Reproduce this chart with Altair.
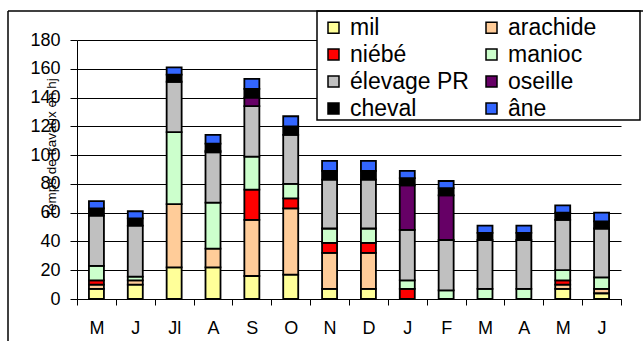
import altair as alt
import pandas as pd

# Monthly labour time per activity (hj), Mai -> Juin of the following year
months = ["M", "J", "Jl", "A", "S", "O", "N", "D", "J", "F", "M", "A", "M", "J"]

series = ["mil", "arachide", "niébé", "manioc", "élevage PR", "oseille", "cheval", "âne"]
colors = ["#FFFF99", "#FFCC99", "#FF0000", "#CCFFCC", "#C0C0C0", "#660066", "#000000", "#3366FF"]

mil = [7, 10, 22, 22, 16, 17, 7, 7, 0, 0, 0, 0, 7, 4]
arachide = [3, 3, 44, 13, 39, 46, 25, 25, 0, 0, 0, 0, 3, 3]
niebe = [3, 0, 0, 0, 21, 7, 7, 7, 7, 0, 0, 0, 3, 0]
manioc = [10, 2.5, 50, 32, 23, 10, 10, 10, 6, 6, 7, 7, 7, 8]
elevage = [35, 35.5, 35, 35, 35, 34, 34, 34, 35, 35, 34, 34, 35, 34]
oseille = [0, 0, 0, 1, 6, 0, 0, 0, 31, 31, 0, 0, 0, 0]
cheval = [5, 5, 5, 5, 6, 6, 6, 6, 5, 5, 5, 5, 5, 5]
ane = [5, 5, 5, 6, 7, 7, 7, 7, 5, 5, 5, 5, 5, 6]

values = [mil, arachide, niebe, manioc, elevage, oseille, cheval, ane]

rows = []
for k, (name, vals) in enumerate(zip(series, values)):
    for i, v in enumerate(vals):
        if v > 0:
            rows.append({"pos": i, "activite": name, "ordre": k, "hj": v})
df = pd.DataFrame(rows)

# the legend grid fills column by column: list the series so that rows read
# mil/arachide, niébé/manioc, élevage PR/oseille, cheval/âne
legend_order = series[0::2] + series[1::2]
legend_colors = [colors[series.index(s)] for s in legend_order]

label_expr = "[" + ",".join("'" + m + "'" for m in months) + "][datum.value]"

bars = alt.Chart(df).mark_bar(size=15, stroke="black", strokeWidth=1.8).encode(
    x=alt.X(
        "pos:O",
        title=None,
        scale=alt.Scale(paddingInner=0, paddingOuter=0),
        axis=alt.Axis(
            labelExpr=label_expr,
            labelAngle=0,
            labelFontSize=18,
            labelColor="black",
            labelPadding=14,
            tickBand="extent",
            tickSize=6,
            tickColor="black",
            domainColor="black",
            grid=False,
        ),
    ),
    y=alt.Y(
        "hj:Q",
        stack="zero",
        title=None,
        scale=alt.Scale(domain=[0, 180], nice=False),
        axis=alt.Axis(
            values=list(range(0, 181, 20)),
            labelFontSize=18,
            labelColor="black",
            labelPadding=10,
            tickSize=7,
            tickColor="black",
            domainColor="black",
            grid=True,
            gridColor="black",
            gridWidth=1,
        ),
    ),
    color=alt.Color(
        "activite:N",
        title=None,
        scale=alt.Scale(domain=legend_order, range=legend_colors),
        legend=alt.Legend(
            orient="none",
            legendX=245,
            legendY=-24,
            columns=2,
            labelFontSize=23,
            labelColor="black",
            labelOffset=5,
            symbolType="square",
            symbolSize=121,
            symbolStrokeColor="black",
            symbolStrokeWidth=1.5,
            rowPadding=3,
            columnPadding=11,
            padding=0,
        ),
    ),
    order=alt.Order("ordre:Q", sort="ascending"),
)

one = pd.DataFrame({"k": [0]})

# y axis title, written vertically over the tick labels
y_title = alt.Chart(one).mark_text(
    text="Temps de travaux en hj",
    fontSize=13.5,
    angle=270,
    align="center",
    baseline="alphabetic",
    color="black",
).encode(x=alt.value(-21), y=alt.value(108))

# white box behind the legend
legend_box = alt.Chart(one).mark_rect(fill="white", stroke="black", strokeWidth=1.5).encode(
    x=alt.value(240), x2=alt.value(563), y=alt.value(-29), y2=alt.value(80)
)

# outer chart frame (left and top edges)
frame_left = alt.Chart(one).mark_rule(color="black", strokeWidth=1.5).encode(
    x=alt.value(-69), y=alt.value(-29), y2=alt.value(320)
)
frame_top = alt.Chart(one).mark_rule(color="black", strokeWidth=1.5).encode(
    x=alt.value(-69), x2=alt.value(580), y=alt.value(-29)
)

chart = (
    alt.layer(bars, legend_box, frame_left, frame_top, y_title)
    .properties(
        width=544,
        height=259,
        autosize=alt.AutoSizeParams(type="none"),
        padding={"left": 77, "top": 40, "right": 22, "bottom": 42},
    )
    .configure(font="Liberation Sans")
    .configure_view(strokeWidth=0)
)

chart.save("out.html", embed_options={"renderer": "svg", "actions": False})
